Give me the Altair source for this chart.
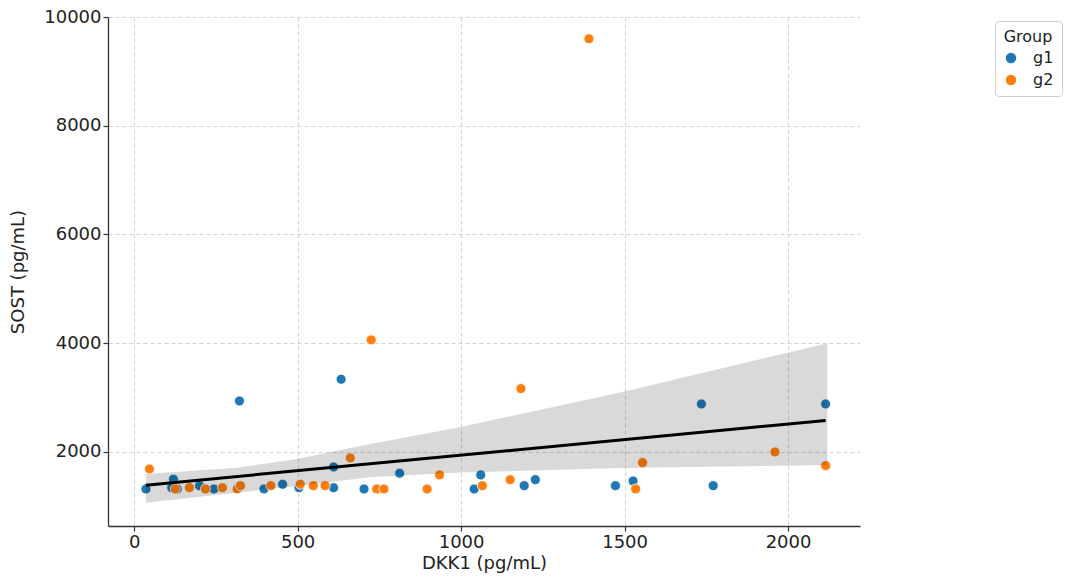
import altair as alt
import pandas as pd

# --- data ---
g1_x = [36, 120, 115, 132, 200, 244, 322, 397, 454, 504, 610, 610, 633, 703, 812,
        1040, 1060, 1193, 1227, 1472, 1526, 1735, 1771, 2115]
g1_y = [1319, 1498, 1343, 1319, 1380, 1319, 2938, 1319, 1405, 1343, 1343, 1724, 3337, 1319, 1608,
        1319, 1577, 1380, 1490, 1380, 1466, 2883, 1380, 2883]

g2_x = [47, 126, 169, 218, 270, 315, 325, 418, 508, 548, 584, 661, 725, 742, 764,
        896, 934, 1065, 1150, 1183, 1391, 1534, 1555, 1960, 2115]
g2_y = [1687, 1319, 1343, 1319, 1343, 1319, 1380, 1380, 1405, 1380, 1380, 1890, 4061, 1319, 1319,
        1319, 1577, 1380, 1490, 3165, 9599, 1319, 1804, 2000, 1748]

# confidence band edges (bootstrap band)
band_x = [36, 314, 497, 722, 995, 1490, 2120]
band_lo = [1067, 1250, 1374, 1534, 1620, 1705, 1761]
band_hi = [1595, 1711, 1870, 2147, 2454, 3100, 4000]

groups = ["g1", "g2"]
colors = ["#1f77b4", "#ff7f0e"]

x_ticks = [0, 500, 1000, 1500, 2000]
y_ticks = [2000, 4000, 6000, 8000, 10000]

pts = pd.DataFrame({
    "DKK1": g1_x + g2_x,
    "SOST": g1_y + g2_y,
    "Group": ["g1"] * len(g1_x) + ["g2"] * len(g2_x),
})
band = pd.DataFrame({"x": band_x, "lo": band_lo, "hi": band_hi})

FONT = "DejaVu Sans"
xscale = alt.Scale(domain=[-80, 2220], nice=False, zero=False)
yscale = alt.Scale(domain=[638, 10000], nice=False, zero=False)

xaxis = alt.Axis(values=x_ticks, title="DKK1 (pg/mL)", format="d")
yaxis = alt.Axis(values=y_ticks, title="SOST (pg/mL)", format="d")

points = alt.Chart(pts).mark_circle(size=100, opacity=1, stroke="white", strokeWidth=0.8).encode(
    x=alt.X("DKK1:Q", scale=xscale, axis=xaxis),
    y=alt.Y("SOST:Q", scale=yscale, axis=yaxis),
    color=alt.Color("Group:N", scale=alt.Scale(domain=groups, range=colors),
                    legend=alt.Legend(title="Group", orient="none", legendX=887, legendY=4,
                                      titleAnchor="middle")),
)

area = alt.Chart(band).mark_area(color="black", opacity=0.15).encode(
    x=alt.X("x:Q", scale=xscale),
    y=alt.Y("lo:Q", scale=yscale),
    y2="hi:Q",
)

line = alt.Chart(pts).transform_regression("DKK1", "SOST").mark_line(
    color="black", strokeWidth=3
).encode(
    x=alt.X("DKK1:Q", scale=xscale),
    y=alt.Y("SOST:Q", scale=yscale),
)

chart = alt.layer(points, area, line).properties(
    width=752, height=509,
    autosize=alt.AutoSizeParams(type="none"),
    padding={"left": 108, "top": 17, "right": 218, "bottom": 52},
).configure_view(stroke=None).configure_axis(
    labelFont=FONT, titleFont=FONT, labelFontSize=18, titleFontSize=18,
    labelColor="#222222", titleColor="#222222", titleFontWeight="normal",
    domainColor="#333333", domainWidth=1.3, tickColor="#333333", tickSize=5, tickWidth=1.2,
    gridColor="#c8c8c8", gridDash=[4, 3], gridWidth=0.8, labelPadding=2,
).configure_axisY(titlePadding=16).configure_axisX(titlePadding=3).configure_legend(
    labelFont=FONT, titleFont=FONT, labelFontSize=16, titleFontSize=16,
    titleFontWeight="normal", labelColor="#222222", titleColor="#222222",
    strokeColor="#cccccc", cornerRadius=4, padding=8, symbolSize=110,
    symbolType="circle", symbolStrokeWidth=0, rowPadding=6, labelOffset=14,
)

chart.save("out.html", embed_options={"renderer": "svg", "actions": False})
